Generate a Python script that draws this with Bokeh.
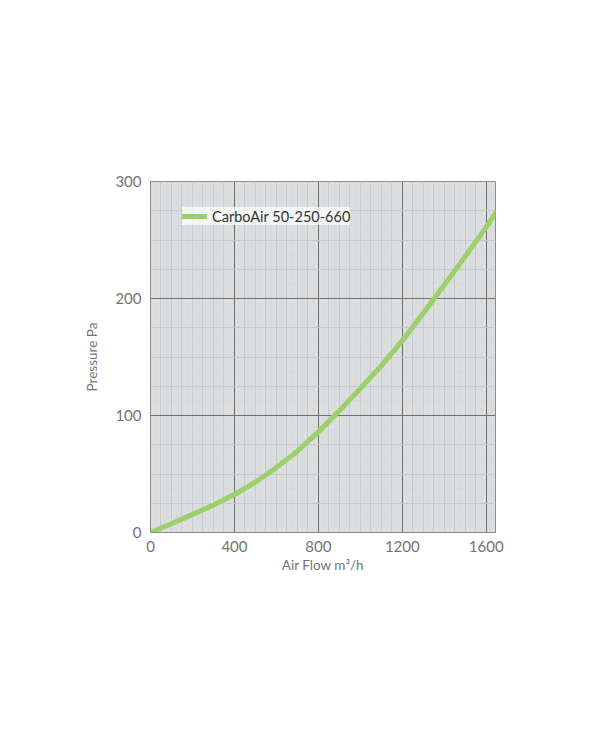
from bokeh.plotting import figure
from bokeh.embed import file_html
from bokeh.resources import INLINE
from bokeh.models import (Range1d, FixedTicker, SingleIntervalTicker, Grid, Legend, LegendItem)

# Data
flow = [0, 100, 200, 300, 400, 500, 600, 700, 800, 900, 1000, 1100, 1200, 1300, 1400, 1500, 1600, 1644]
pressure = [0, 7.5, 15.5, 23.5, 32.5, 43, 55.5, 69.5, 86, 104, 123, 142.5, 164, 187.5, 211.5, 236, 261, 273]
series_name = "CarboAir 50-250-660"
x_ticks = [0, 400, 800, 1200, 1600]
y_ticks = [0, 100, 200, 300]

FONT = "Lato"
GRAY = "#737373"

p = figure(frame_width=345, frame_height=351,
           min_border_left=150, min_border_top=181, min_border_right=89, min_border_bottom=180,
           x_range=Range1d(0, 1644), y_range=Range1d(0, 300),
           output_backend="svg", toolbar_location=None,
           background_fill_color="#dcdddf", border_fill_color="white",
           outline_line_color="#8c8c8c", outline_line_width=1)

# axes
p.xaxis.ticker = FixedTicker(ticks=x_ticks, minor_ticks=list(range(0, 1650, 50)))
p.yaxis.ticker = FixedTicker(ticks=y_ticks, minor_ticks=list(range(0, 301, 25)))
for ax in (p.xaxis[0], p.yaxis[0]):
    ax.major_tick_out = 0
    ax.major_tick_in = 0
    ax.minor_tick_out = 0
    ax.minor_tick_in = 0
    ax.axis_line_color = "#8c8c8c"
    ax.major_label_text_font = FONT
    ax.major_label_text_font_size = "15px"
    ax.major_label_text_color = GRAY
    ax.axis_label_text_font = FONT
    ax.axis_label_text_font_size = "13.5px"
    ax.axis_label_text_font_style = "normal"
    ax.axis_label_text_color = GRAY
p.xaxis.axis_label = "Air Flow m³/h"
p.yaxis.axis_label = "Pressure Pa"
p.xaxis.major_label_standoff = 8
p.yaxis.major_label_standoff = 9
p.xaxis.axis_label_standoff = 2
p.yaxis.axis_label_standoff = 12

# grids
p.xgrid.grid_line_color = "#707070"
p.ygrid.grid_line_color = "#707070"
p.xgrid.grid_line_width = 1
p.ygrid.grid_line_width = 1
p.xgrid.minor_grid_line_color = "#c9cacc"
p.ygrid.minor_grid_line_color = "#c9cacc"
p.xgrid.level = "underlay"
p.ygrid.level = "underlay"

dx = Grid(dimension=0, ticker=SingleIntervalTicker(interval=25),
          grid_line_color="#d0d1d3", grid_line_dash="1 2", level="underlay")
dy = Grid(dimension=1, ticker=SingleIntervalTicker(interval=12.5),
          grid_line_color="#d0d1d3", grid_line_dash="1 2", level="underlay")
p.renderers.insert(0, dx)
p.renderers.insert(0, dy)

line = p.line(flow, pressure, line_color="#9dd06a", line_width=5,
              line_cap="round", line_join="round")

legend = Legend(items=[LegendItem(label=series_name, renderers=[line])],
                location=(32, 307), orientation="vertical",
                background_fill_color="white", background_fill_alpha=0.72,
                border_line_color=None, padding=4, margin=0,
                glyph_width=25, glyph_height=18, label_height=18, label_standoff=5,
                label_text_font=FONT, label_text_font_size="14.5px", label_text_color="#333333")
p.add_layout(legend, "center")

open("out.html", "w").write(file_html(p, INLINE))
